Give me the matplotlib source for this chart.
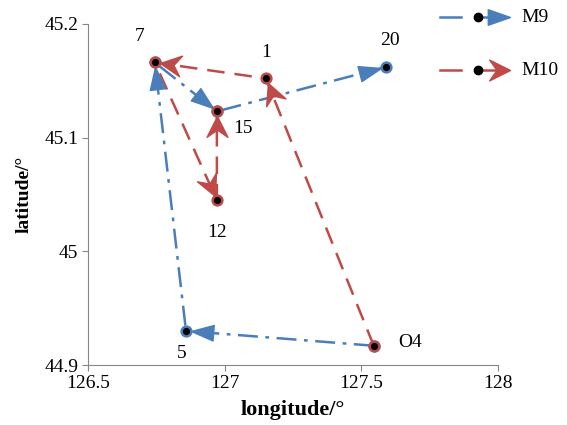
import numpy as np
import matplotlib
matplotlib.use('Agg')
import matplotlib.pyplot as plt
from matplotlib.markers import MarkerStyle
from matplotlib.path import Path
from matplotlib.transforms import Affine2D

# station coordinates (longitude, latitude)
names = ['1', '5', '7', '12', '15', '20', 'O4']
lon = [127.151, 126.859, 126.745, 126.972, 126.972, 127.590, 127.546]
lat = [45.152, 44.930, 45.166, 45.045, 45.123, 45.162, 44.917]

# routes
route_m9 = ['O4', '5', '7', '15', '20']
route_m10 = ['O4', '1', '7', '12', '15']

blue = '#4a7ebb'
red = '#be4b48'

plt.rcParams['font.family'] = ['Liberation Serif', 'DejaVu Serif']

fig = plt.figure(figsize=(5.67, 4.25), dpi=100)
ax = fig.add_axes([0.155, 0.141, 0.723, 0.803])
ax.set_xlim(126.5, 128)
ax.set_ylim(44.9, 45.2)
ax.set_xticks([126.5, 127, 127.5, 128])
ax.set_xticklabels(['126.5', '127', '127.5', '128'])
ax.set_yticks([44.9, 45.0, 45.1, 45.2])
ax.set_yticklabels(['44.9', '45', '45.1', '45.2'])
ax.tick_params(labelsize=14, color='#868686', length=4, pad=3)
for s in ['top', 'right']:
    ax.spines[s].set_visible(False)
for s in ['left', 'bottom']:
    ax.spines[s].set_color('#868686')
ax.set_xlabel('longitude/°', fontsize=16, fontweight='bold', labelpad=6)
ax.set_ylabel('latitude/°', fontsize=14, fontweight='bold', labelpad=8)

pos = {n: (x, y) for n, x, y in zip(names, lon, lat)}

tri = Path([(0, 0), (-1, 0.35), (-1, -0.35), (0, 0)],
           [Path.MOVETO, Path.LINETO, Path.LINETO, Path.CLOSEPOLY])
stealth = Path([(0, 0), (-1, 0.5), (-0.65, 0), (-1, -0.5), (0, 0)],
               [Path.MOVETO, Path.LINETO, Path.LINETO, Path.LINETO, Path.CLOSEPOLY])


def arrow_head(a, b, head, color, size):
    pa = ax.transData.transform(a)
    pb = ax.transData.transform(b)
    d = pb - pa
    ang = np.degrees(np.arctan2(d[1], d[0]))
    tip = pb - d / np.hypot(*d) * 5
    tx, ty = ax.transData.inverted().transform(tip)
    m = MarkerStyle(head, transform=Affine2D().rotate_deg(ang))
    ax.plot([tx], [ty], marker=m, markersize=size, color=color,
            linestyle='none', zorder=4)


def draw_route(route, color, dashes, head, size):
    xs = [pos[n][0] for n in route]
    ys = [pos[n][1] for n in route]
    ax.plot(xs, ys, color=color, lw=1.8, dashes=dashes, zorder=2)
    for a, b in zip(route[:-1], route[1:]):
        arrow_head(pos[a], pos[b], head, color, size)
    ax.plot(xs, ys, 'o', ms=7, mfc='black', mec=color, mew=1.8,
            linestyle='none', zorder=5)


draw_route(route_m9, blue, (8, 3, 1.5, 3), tri, 32)
draw_route(route_m10, red, (7, 4), stealth, 30)

offsets = {'7': (-11, 19), '1': (0, 19), '20': (3, 19), '15': (19, -12),
           '12': (0, -23), '5': (-3, -16), 'O4': (26, 2)}
for n in names:
    ax.annotate(n, pos[n], xytext=offsets[n], textcoords='offset points',
                ha='center', va='center', fontsize=14)

# legend drawn in pixel coordinates
lg = fig.add_axes([0, 0, 1, 1], zorder=10)
lg.set_xlim(0, 567)
lg.set_ylim(425, 0)
lg.axis('off')
for y, color, head, size, lab in [(17, blue, tri, 32, 'M9'),
                                   (70, red, stealth, 30, 'M10')]:
    lg.plot([440, 461], [y, y], color=color, lw=1.8)
    lg.plot([478, 495], [y, y], color=color, lw=1.8)
    lg.plot([510], [y], marker=MarkerStyle(head), markersize=size,
            color=color, linestyle='none')
    lg.plot([478], [y], 'o', ms=6, mfc='black', mec='black')
    lg.text(521, y, lab, fontsize=14, va='center')

fig.savefig('out.png', dpi=100)
